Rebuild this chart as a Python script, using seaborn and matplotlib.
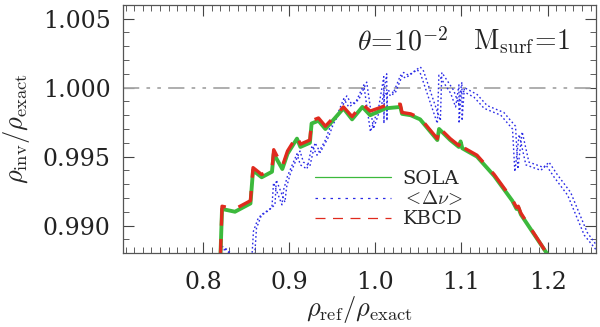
import numpy as np
import pandas as pd
import matplotlib
matplotlib.use("Agg")
import matplotlib.pyplot as plt
from matplotlib.lines import Line2D
from matplotlib.ticker import MultipleLocator, FuncFormatter
import seaborn as sns

# --- data ---
sola_x = [0.820, 0.822, 0.837, 0.855, 0.858, 0.868, 0.880, 0.882, 0.892, 0.898,
          0.909, 0.913, 0.924, 0.926, 0.934, 0.942, 0.963, 0.973, 0.985, 0.994,
          1.012, 1.029, 1.031, 1.041, 1.052, 1.072, 1.074, 1.087, 1.097, 1.099,
          1.101, 1.118, 1.138, 1.159, 1.164, 1.166, 1.169, 1.200]
sola_y = [0.9875, 0.9912, 0.9910, 0.9916, 0.9940, 0.9935, 0.9939, 0.9952, 0.9941, 0.9952,
          0.9963, 0.9957, 0.9960, 0.9974, 0.9976, 0.9970, 0.9985, 0.9977, 0.9986, 0.9980,
          0.9985, 0.9986, 0.9981, 0.9980, 0.9977, 0.9962, 0.9970, 0.9962, 0.9957, 0.9961,
          0.9956, 0.9950, 0.9936, 0.9918, 0.9912, 0.9913, 0.9908, 0.9879]

kbcd_x = [0.816, 0.820, 0.822, 0.837, 0.855, 0.858, 0.868, 0.880, 0.882, 0.892, 0.898,
          0.909, 0.913, 0.924, 0.926, 0.934, 0.942, 0.963, 0.973, 0.985, 0.994,
          1.012, 1.029, 1.031, 1.041, 1.052, 1.072, 1.074, 1.087, 1.097, 1.099,
          1.101, 1.118, 1.138, 1.159, 1.164, 1.166, 1.169, 1.200]
kbcd_y = [0.9875, 0.9876, 0.9914, 0.9912, 0.9918, 0.9942, 0.9937, 0.9941, 0.9955, 0.9943, 0.9954,
          0.9965, 0.9959, 0.9962, 0.9976, 0.9978, 0.9972, 0.9986, 0.9979, 0.9988, 0.9983,
          0.9987, 0.9988, 0.9982, 0.9981, 0.9978, 0.9963, 0.9971, 0.9963, 0.9958, 0.9962,
          0.9957, 0.9951, 0.9937, 0.9919, 0.9913, 0.9914, 0.9909, 0.9879]

dnu_x = [0.818, 0.822, 0.829, 0.840, 0.856, 0.8585, 0.8644, 0.8741, 0.8799, 0.8818,
         0.8916, 0.8935, 0.8981, 0.9090, 0.9129, 0.9207, 0.9265, 0.9323, 0.9420, 0.9478,
         0.9556, 0.9633, 0.9691, 0.9769, 0.9866, 0.9943, 1.0040, 1.0098, 1.0100, 1.0105,
         1.0195, 1.0293, 1.0351, 1.0487, 1.0525, 1.0720, 1.0738, 1.0874, 1.0932, 1.0971,
         1.0972, 1.0999, 1.1147, 1.1263, 1.1457, 1.1593, 1.1620, 1.1670, 1.1748, 1.1923,
         1.1981, 1.2077, 1.2233, 1.2426, 1.2582]
dnu_y = [0.9870, 0.9885, 0.9881, 0.9870, 0.9870, 0.9896, 0.9906, 0.9910, 0.9913, 0.9931,
         0.9915, 0.9926, 0.9936, 0.9952, 0.9944, 0.9941, 0.9958, 0.9951, 0.9962, 0.9972,
         0.9980, 0.9992, 0.9986, 0.9989, 1.0002, 0.9968, 0.9986, 1.0008, 0.9974, 0.9996,
         0.9994, 1.0009, 1.0007, 1.0013, 1.0010, 0.9974, 1.0009, 0.9996, 0.9986, 1.0002,
         0.9974, 0.9998, 0.9993, 0.9985, 0.9980, 0.9970, 0.9939, 0.9966, 0.9944, 0.9940,
         0.9944, 0.9935, 0.9922, 0.9893, 0.9881]

# second, slightly shifted realisation of the <dnu> curve
dnu2_x = [0.821, 0.825, 0.832, 0.843, 0.859, 0.8620, 0.8680, 0.8775, 0.8835, 0.8850,
          0.8950, 0.8970, 0.9015, 0.9125, 0.9165, 0.9240, 0.9300, 0.9360, 0.9455, 0.9515,
          0.9590, 0.9668, 0.9725, 0.9805, 0.9900, 0.9978, 1.0075, 1.0132, 1.0135, 1.0140,
          1.0230, 1.0328, 1.0386, 1.0522, 1.0560, 1.0755, 1.0772, 1.0910, 1.0968, 1.1005,
          1.1007, 1.1034, 1.1182, 1.1298, 1.1492, 1.1628, 1.1655, 1.1705, 1.1783, 1.1958,
          1.2016, 1.2112, 1.2268, 1.2460, 1.2600]
dnu2_y = [0.9870, 0.9884, 0.9880, 0.9870, 0.9870, 0.9898, 0.9908, 0.9912, 0.9915, 0.9933,
          0.9917, 0.9928, 0.9938, 0.9954, 0.9946, 0.9943, 0.9960, 0.9953, 0.9964, 0.9974,
          0.9982, 0.9994, 0.9988, 0.9991, 1.0004, 0.9970, 0.9988, 1.0010, 0.9976, 0.9998,
          0.9996, 1.0011, 1.0009, 1.0015, 1.0012, 0.9976, 1.0011, 0.9998, 0.9988, 1.0004,
          0.9976, 1.0000, 0.9995, 0.9987, 0.9982, 0.9972, 0.9941, 0.9968, 0.9946, 0.9942,
          0.9946, 0.9937, 0.9924, 0.9895, 0.9883]

ref_level = 1.0
legend_labels = ["SOLA", r"$<\!\Delta\nu\!>$", "KBCD"]

# --- style ---
sns.set_style("ticks")
plt.rcParams["font.family"] = ["DejaVu Serif"]
plt.rcParams["mathtext.fontset"] = "cm"
plt.rcParams["xtick.direction"] = "in"
plt.rcParams["ytick.direction"] = "in"

green = "#3cb93c"
red = "#e02a1e"
blue = "#2a2ae6"
grey = "#a8a8a8"

fig = plt.figure(figsize=(6.0, 3.27), dpi=100)
ax = fig.add_axes([0.205, 0.226, 0.788, 0.759])

ax.axhline(ref_level, color=grey, lw=1.3, dashes=(9, 4, 2, 4, 2, 4))

sns.lineplot(x=dnu_x, y=dnu_y, sort=False, estimator=None, ax=ax,
             color=blue, lw=1.0, linestyle=(0, (1.2, 1.8)))
sns.lineplot(x=dnu2_x, y=dnu2_y, sort=False, estimator=None, ax=ax,
             color=blue, lw=1.0, linestyle=(0, (1.2, 1.8)))
sns.lineplot(x=sola_x, y=sola_y, sort=False, estimator=None, ax=ax,
             color=green, lw=2.8)
sns.lineplot(x=kbcd_x, y=kbcd_y, sort=False, estimator=None, ax=ax,
             color=red, lw=2.4, linestyle=(0, (7, 4)))

ax.set_xlim(0.707, 1.256)
ax.set_ylim(0.988, 1.006)

ax.xaxis.set_major_locator(MultipleLocator(0.1))
ax.xaxis.set_minor_locator(MultipleLocator(0.01))
ax.yaxis.set_major_locator(MultipleLocator(0.005))
ax.yaxis.set_minor_locator(MultipleLocator(0.001))
ax.xaxis.set_major_formatter(FuncFormatter(lambda v, p: f"{v:.1f}"))
ax.yaxis.set_major_formatter(FuncFormatter(lambda v, p: f"{v:.3f}"))
ax.tick_params(which="both", top=True, right=True, colors="#444444",
               labelcolor="#222222", labelsize=17)
ax.tick_params(which="major", length=8, width=0.8)
ax.tick_params(which="minor", length=4, width=0.6)
ax.tick_params(axis="x", pad=13)
ax.tick_params(axis="y", pad=9)
for s in ax.spines.values():
    s.set_color("#555555")
    s.set_linewidth(0.9)

ax.set_xlabel(r"$\rho_{\rm ref}/\rho_{\rm exact}$", fontsize=19, labelpad=0)
ax.set_ylabel(r"$\rho_{\rm inv}/\rho_{\rm exact}$", fontsize=19, labelpad=8)

ax.text(0.979, 1.0033, r"$\theta\!=\!10^{-2}$", fontsize=20, color="#222222",
        va="center")
ax.text(1.113, 1.0033, r"${\rm M}_{\rm surf}\!=\!1$", fontsize=20, color="#222222",
        va="center")

handles = [Line2D([], [], color=green, lw=0.9),
           Line2D([], [], color=blue, lw=0.9, linestyle=(0, (2, 4))),
           Line2D([], [], color=red, lw=0.9, linestyle=(0, (8, 6)))]
ax.legend(handles, legend_labels, loc="upper left", bbox_to_anchor=(0.406, 0.335),
          frameon=False, fontsize=14, handlelength=3.9, handletextpad=0.6,
          labelspacing=0.1, borderpad=0, borderaxespad=0)

fig.savefig("out.png", dpi=100)
